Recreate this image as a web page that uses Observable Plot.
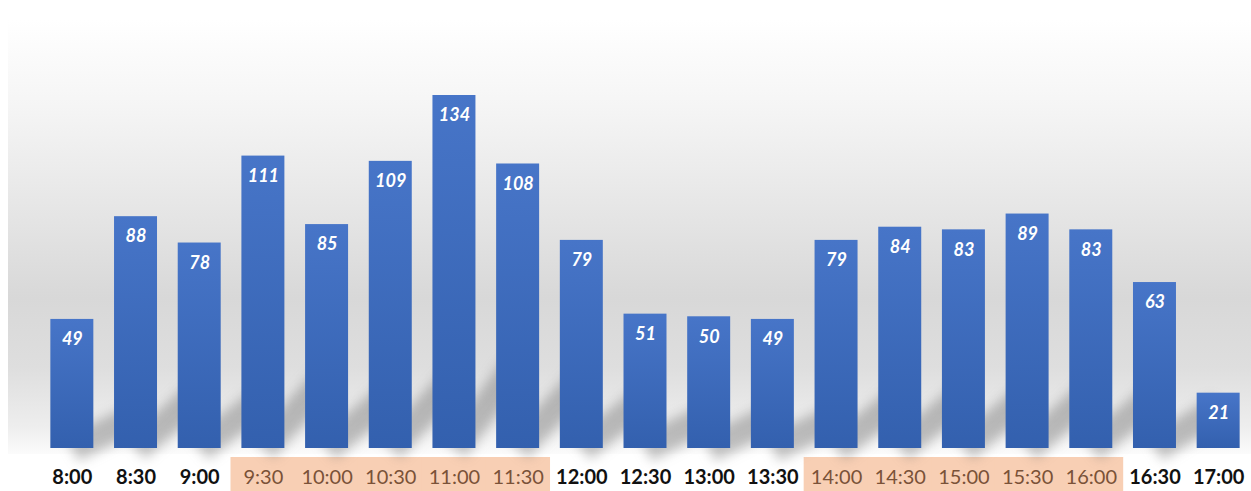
<!DOCTYPE html>
<html>
<head>
<meta charset="utf-8">
<script src="https://cdn.jsdelivr.net/npm/d3@7"></script>
<script src="https://cdn.jsdelivr.net/npm/@observablehq/plot@0.6"></script>
<style>
  html, body { margin: 0; padding: 0; background: #ffffff; }
  #wrap { position: relative; width: 1251px; height: 491px; overflow: hidden; }
  #panel {
    position: absolute; left: 8px; top: 20px; width: 1243px; height: 434px;
    background: linear-gradient(to bottom,
      #ffffff 0%, #f5f5f5 20%, #e5e5e5 45%, #d8d8d8 64%, #dedede 80%, #eeeeee 94%, #fbfbfb 100%);
  }
  #chart { position: absolute; left: 0; top: 0; }
  #chart svg { background: transparent !important; overflow: visible; }
  #chart g[aria-label="link"] { filter: blur(6px); }
</style>
</head>
<body>
<div id="wrap">
  <div id="panel"></div>
  <div id="chart"></div>
</div>
<script>
// Half-hour time slots and the count recorded in each
const slots = ["8:00","8:30","9:00","9:30","10:00","10:30","11:00","11:30","12:00","12:30",
               "13:00","13:30","14:00","14:30","15:00","15:30","16:00","16:30","17:00"];
const counts = [49, 88, 78, 111, 85, 109, 134, 108, 79, 51, 50, 49, 79, 84, 83, 89, 83, 63, 21];
// Peak periods shaded under the axis
const peakSlots = ["9:30","10:00","10:30","11:00","11:30","14:00","14:30","15:00","15:30","16:00"];

const data = slots.map((slot, i) => ({slot, count: counts[i], next: slots[i + 1]}));
const peak = new Set(peakSlots);

// Soft floor shadows cast toward the following slot
const shadows = data.filter(d => d.next !== undefined);

const chart = Plot.plot({
  width: 1251,
  height: 491,
  marginLeft: 40,
  marginRight: 1,
  marginTop: 95,
  marginBottom: 43,
  style: {background: "transparent", overflow: "visible"},
  x: {domain: slots, paddingInner: 0.325, paddingOuter: 0.1625, round: false, axis: null},
  y: {domain: [0, d3.max(counts)], axis: null},
  marks: [
    () => {
      const ns = "http://www.w3.org/2000/svg";
      const defs = document.createElementNS(ns, "defs");
      defs.innerHTML = `
        <linearGradient id="barFill" x1="0" y1="0" x2="0" y2="1">
          <stop offset="0%" stop-color="#4775c8"/>
          <stop offset="100%" stop-color="#3360ae"/>
        </linearGradient>`;
      return defs;
    },
    // highlighted label bands for the peak periods (slightly overlapping, no seams)
    Plot.barY(peakSlots, {
      x: d => d, y1: 0, y2: 0,
      insetTop: 9, insetBottom: -43,
      insetLeft: -10.9, insetRight: -10.9,
      fill: "#f8cfb4"
    }),
    Plot.link(shadows, {
      x1: "slot", y1: 0,
      x2: "next", y2: d => d.count * 0.24,
      stroke: "#666666", strokeOpacity: 0.4, strokeWidth: 28
    }),
    Plot.barY(data, {x: "slot", y: "count", fill: "url(#barFill)"}),
    Plot.text(data, {
      x: "slot", y: "count", text: d => String(d.count), dy: 20,
      fill: "white", fontSize: 18, fontWeight: "bold", fontStyle: "italic",
      fontFamily: "Lato, 'Open Sans', sans-serif"
    }),
    // time labels under the bars
    Plot.text(data.filter(d => !peak.has(d.slot)), {
      x: "slot", y: 0, text: "slot", dy: 29,
      fill: "#111111", fontSize: 20, fontWeight: "bold",
      fontFamily: "Lato, 'Open Sans', sans-serif"
    }),
    Plot.text(data.filter(d => peak.has(d.slot)), {
      x: "slot", y: 0, text: "slot", dy: 29,
      fill: "#7a5238", fontSize: 20, fontWeight: "normal",
      fontFamily: "Lato, 'Open Sans', sans-serif"
    })
  ]
});

document.getElementById("chart").appendChild(chart);
</script>
</body>
</html>
